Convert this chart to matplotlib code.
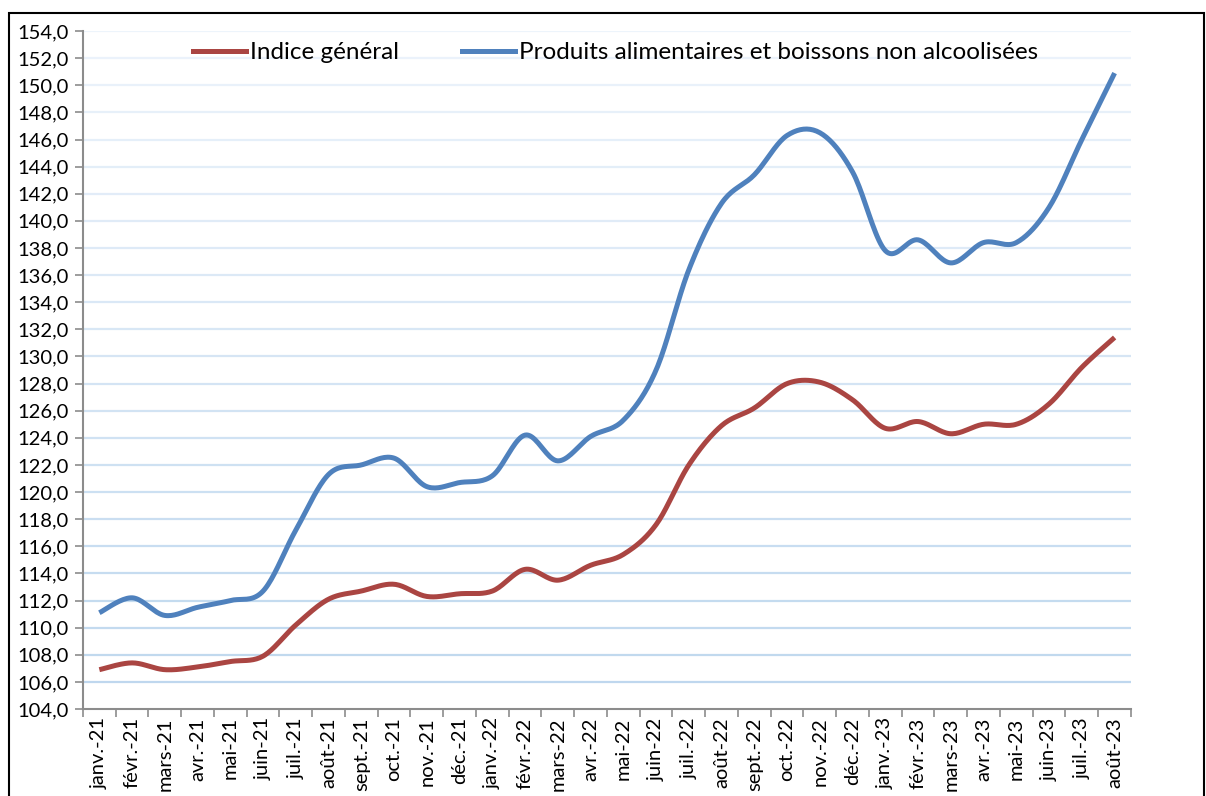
import numpy as np
import matplotlib
matplotlib.use("Agg")
import matplotlib.pyplot as plt
from matplotlib.patches import Rectangle
from matplotlib.lines import Line2D
from matplotlib.ticker import FuncFormatter, FixedLocator

months = ["janv.-21", "févr.-21", "mars-21", "avr.-21", "mai-21", "juin-21", "juil.-21", "août-21",
          "sept.-21", "oct.-21", "nov.-21", "déc.-21", "janv.-22", "févr.-22", "mars-22", "avr.-22",
          "mai-22", "juin-22", "juil.-22", "août-22", "sept.-22", "oct.-22", "nov.-22", "déc.-22",
          "janv.-23", "févr.-23", "mars-23", "avr.-23", "mai-23", "juin-23", "juil.-23", "août-23"]

indice_general = [106.9, 107.4, 106.9, 107.1, 107.5, 107.9, 110.2, 112.1,
                  112.7, 113.2, 112.3, 112.5, 112.7, 114.3, 113.5, 114.6,
                  115.4, 117.6, 122.0, 124.9, 126.2, 128.0, 128.1, 126.8,
                  124.7, 125.2, 124.3, 125.0, 125.0, 126.5, 129.2, 131.4]

alimentaires = [111.1, 112.2, 110.9, 111.5, 112.0, 112.7, 117.2, 121.3,
                122.0, 122.5, 120.4, 120.7, 121.2, 124.2, 122.3, 124.1,
                125.3, 129.0, 136.4, 141.3, 143.4, 146.3, 146.5, 143.6,
                137.8, 138.6, 136.9, 138.4, 138.4, 141.0, 146.0, 150.9]

labels = ["Indice général", "Produits alimentaires et boissons non alcoolisées"]
colors = ["#AA4542", "#4F81BD"]


def smooth(y, n=20):
    """Excel-like smoothed line (Catmull-Rom Bezier)."""
    y = np.asarray(y, float)
    x = np.arange(len(y), dtype=float)
    P = np.column_stack([x, y])
    out = []
    for i in range(len(P) - 1):
        p0 = P[i - 1] if i > 0 else P[i]
        p1 = P[i]
        p2 = P[i + 1]
        p3 = P[i + 2] if i + 2 < len(P) else P[i + 1]
        c1 = p1 + (p2 - p0) / 6.0
        c2 = p2 - (p3 - p1) / 6.0
        t = np.linspace(0, 1, n, endpoint=(i == len(P) - 2))[:, None]
        b = ((1 - t) ** 3) * p1 + 3 * ((1 - t) ** 2) * t * c1 + 3 * (1 - t) * t ** 2 * c2 + t ** 3 * p2
        out.append(b)
    out = np.vstack(out)
    return out[:, 0], out[:, 1]


plt.rcParams['font.family'] = ['Lato', 'DejaVu Sans']

fig = plt.figure(figsize=(12.06, 7.96), dpi=100)
ax = fig.add_axes([0.0688, 0.1093, 0.8690, 0.8517])

# outer frame
fig.patches.append(Rectangle((9 / 1206, -0.05), (1204 - 9) / 1206, 1.05 - 13 / 796,
                             transform=fig.transFigure, fill=False, edgecolor="black",
                             linewidth=1.5, zorder=0))

ymin, ymax = 104, 154
yt = np.arange(ymin, ymax + 1, 2)
# gridlines with a pale gradient (lighter at top)
for v in yt[1:]:
    f = (v - ymin) / (ymax - ymin)
    c1 = np.array([0.74, 0.84, 0.93])
    c2 = np.array([0.93, 0.955, 0.985])
    col = c1 * (1 - f) + c2 * f
    ax.axhline(v, color=col, linewidth=1.6, zorder=1)

for vals, col in zip([indice_general, alimentaires], colors):
    xs, ys = smooth(vals)
    ax.plot(xs, ys, color=col, linewidth=3.6, solid_capstyle="butt", zorder=3)

ax.set_xlim(-0.5, len(months) - 0.5)
ax.set_ylim(ymin, ymax)
ax.set_yticks(yt)
ax.yaxis.set_major_formatter(FuncFormatter(lambda v, p: f"{v:.1f}".replace(".", ",")))
ax.set_xticks(np.arange(len(months)))
ax.set_xticklabels(months, rotation=90, fontsize=14.5)
ax.tick_params(axis="x", which="major", length=0, pad=6)
ax.xaxis.set_minor_locator(FixedLocator(np.arange(-0.5, len(months), 1)))
ax.tick_params(axis="x", which="minor", length=6, width=1.2, color="#8c8c8c", direction="out")
ax.tick_params(axis="y", length=6, width=1.2, color="#8c8c8c", labelsize=14.5, pad=4)

for s in ["top", "right"]:
    ax.spines[s].set_visible(False)
for s in ["left", "bottom"]:
    ax.spines[s].set_color("#8c8c8c")
    ax.spines[s].set_linewidth(1.5)

handles = [Line2D([], [], color=c, linewidth=3.6) for c in colors]
ax.legend(handles, labels, loc="upper center", bbox_to_anchor=(0.508, 1.016), ncol=2,
          frameon=False, fontsize=17.5, handlelength=2.2, handletextpad=0.15, columnspacing=2.6)

fig.savefig("out.png", dpi=100)
